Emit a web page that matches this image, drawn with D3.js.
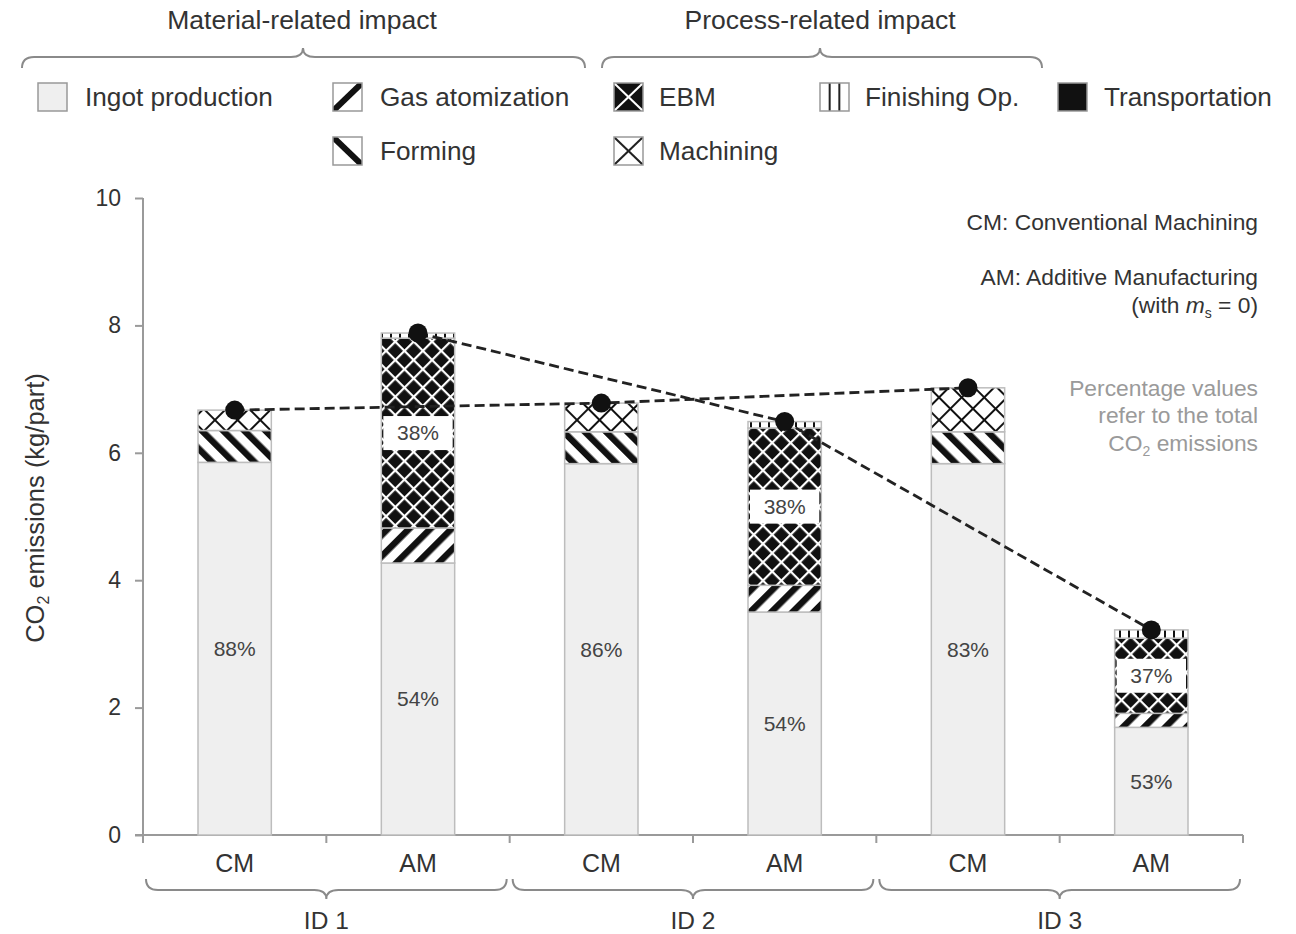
<!DOCTYPE html>
<html><head><meta charset="utf-8">
<script src="https://cdn.jsdelivr.net/npm/d3@7"></script>
<style>body{margin:0;background:#fff;} svg{display:block;} text{font-family:"Liberation Sans",Arial,sans-serif;}</style>
</head><body><svg id="chart" width="1296" height="934"></svg>
<script>
// ---------- data ----------
const categories = ["CM","AM","CM","AM","CM","AM"];
const groups = ["ID 1","ID 2","ID 3"];
const yTicks = [0,2,4,6,8,10];
const seriesNames = ["Ingot production","Gas atomization","Forming","EBM","Machining","Finishing Op.","Transportation"];
const ingot          = [5.85, 4.27, 5.83, 3.50, 5.83, 1.69];
const gasAtomization = [0,    0.55, 0,    0.42, 0,    0.22];
const forming        = [0.50, 0,    0.50, 0,    0.50, 0   ];
const ebm            = [0,    2.98, 0,    2.47, 0,    1.18];
const machining      = [0.32, 0,    0.45, 0,    0.69, 0   ];
const finishing      = [0,    0.08, 0,    0.10, 0,    0.13];
const transportation = [0,    0,    0,    0,    0,    0   ];
const ingotPct = ["88%","54%","86%","54%","83%","53%"];
const ebmPct   = ["","38%","","38%","","37%"];
const headings = ["Material-related impact","Process-related impact"];

// ---------- setup ----------
const svg = d3.select("#chart");
const keys = ["ingot","gas","forming","ebm","machining","finishing","transport"];
const rows = categories.map((c,i)=>({i, ingot:ingot[i], gas:gasAtomization[i], forming:forming[i], ebm:ebm[i], machining:machining[i], finishing:finishing[i], transport:transportation[i]}));
const totals = rows.map(r=>keys.reduce((s,k)=>s+r[k],0));
const stack = d3.stack().keys(keys)(rows);

const x = d3.scaleBand().domain(d3.range(categories.length)).range([143,1243]).paddingInner(0.6).paddingOuter(0.3);
const step = x.step();
const y = d3.scaleLinear().domain([0,10]).range([835,198]);

// ---------- patterns ----------
const defs = svg.append("defs");
function stripes(id, angle){
  const p = defs.append("pattern").attr("id",id).attr("patternUnits","userSpaceOnUse")
    .attr("width",15).attr("height",15).attr("patternTransform",`rotate(${angle})`);
  p.append("rect").attr("width",15).attr("height",15).attr("fill","#fff");
  p.append("rect").attr("x",0).attr("width",6.5).attr("height",15).attr("fill","#111");
}
stripes("pGas",45); stripes("pForming",-45);
function hatch(id, bg, fg, sw, s){
  const p = defs.append("pattern").attr("id",id).attr("patternUnits","userSpaceOnUse")
    .attr("width",s).attr("height",s).attr("patternTransform","rotate(45)");
  p.append("rect").attr("width",s).attr("height",s).attr("fill",bg);
  p.append("rect").attr("x",0).attr("y",0).attr("width",sw).attr("height",s).attr("fill",fg);
  p.append("rect").attr("x",0).attr("y",0).attr("width",s).attr("height",sw).attr("fill",fg);
}
hatch("pEbm","#111","#fff",2.2,13);
hatch("pMach","#fff","#111",2,16);
const pf = defs.append("pattern").attr("id","pFin").attr("patternUnits","userSpaceOnUse").attr("width",9).attr("height",9);
pf.append("rect").attr("width",9).attr("height",9).attr("fill","#fff");
pf.append("rect").attr("x",3).attr("width",2).attr("height",9).attr("fill","#111");

const fills = {ingot:"#efefef", gas:"url(#pGas)", forming:"url(#pForming)", ebm:"url(#pEbm)", machining:"url(#pMach)", finishing:"url(#pFin)", transport:"#111"};

// ---------- axes ----------
const axisColor = "#9a9a9a";
const gy = svg.append("g").attr("transform","translate(143,0)")
  .call(d3.axisLeft(y).tickValues(yTicks).tickSize(8).tickPadding(14).tickFormat(d3.format("d")));
gy.select(".domain").attr("stroke",axisColor).attr("stroke-width",2).attr("d","M0,835V198");
gy.selectAll(".tick line").attr("stroke",axisColor).attr("stroke-width",2);
gy.selectAll(".tick text").attr("font-size",23).attr("fill","#333").attr("font-family","Liberation Sans, Arial, sans-serif");

const xBounds = d3.range(categories.length+1).map(i=>143+i*step);
const gx = svg.append("g");
gx.append("line").attr("x1",135).attr("x2",1243).attr("y1",835).attr("y2",835).attr("stroke",axisColor).attr("stroke-width",2);
gx.selectAll("line.t").data(xBounds).join("line").attr("class","t")
  .attr("x1",d=>d).attr("x2",d=>d).attr("y1",835).attr("y2",843).attr("stroke",axisColor).attr("stroke-width",2);
gx.selectAll("text.c").data(categories).join("text").attr("class","c")
  .attr("x",(d,i)=>x(i)+x.bandwidth()/2).attr("y",863).attr("dy","0.35em")
  .attr("text-anchor","middle").attr("font-size",25).attr("fill","#333").text(d=>d);

// ---------- bars ----------
const gb = svg.append("g");
stack.forEach(layer=>{
  gb.selectAll(null).data(layer.filter(d=>d[1]-d[0]>0)).join("rect")
    .attr("x",d=>x(d.data.i)).attr("width",x.bandwidth())
    .attr("y",d=>y(d[1])).attr("height",d=>y(d[0])-y(d[1]))
    .attr("fill",fills[layer.key]).attr("stroke","#bdbdbd").attr("stroke-width",1.5);
});

// percentage labels
const ingotLayer = stack[0], ebmLayer = stack[3];
svg.selectAll("text.pi").data(ingotLayer).join("text").attr("class","pi")
  .attr("x",d=>x(d.data.i)+x.bandwidth()/2).attr("y",d=>(y(d[0])+y(d[1]))/2).attr("dy","0.35em")
  .attr("text-anchor","middle").attr("font-size",21).attr("fill","#444").text((d,i)=>ingotPct[i]);
const ebmLab = ebmLayer.filter((d,i)=>ebmPct[i]);
svg.selectAll("rect.pe").data(ebmLab).join("rect").attr("class","pe")
  .attr("x",d=>x(d.data.i)+2).attr("width",x.bandwidth()-4)
  .attr("y",d=>(y(d[0])+y(d[1]))/2-17).attr("height",34).attr("fill","#fff");
svg.selectAll("text.pe").data(ebmLab).join("text").attr("class","pe")
  .attr("x",d=>x(d.data.i)+x.bandwidth()/2).attr("y",d=>(y(d[0])+y(d[1]))/2).attr("dy","0.35em")
  .attr("text-anchor","middle").attr("font-size",21).attr("fill","#444").text(d=>ebmPct[d.data.i]);

// ---------- total lines & dots ----------
const pts = totals.map((t,i)=>({i,t}));
const line = d3.line().x(d=>x(d.i)+x.bandwidth()/2).y(d=>y(d.t));
[pts.filter(d=>categories[d.i]==="CM"), pts.filter(d=>categories[d.i]==="AM")].forEach(s=>{
  svg.append("path").attr("d",line(s)).attr("fill","none").attr("stroke","#222").attr("stroke-width",2.8).attr("stroke-dasharray","10,5");
});
svg.selectAll("circle.dot").data(pts).join("circle").attr("class","dot")
  .attr("cx",d=>x(d.i)+x.bandwidth()/2).attr("cy",d=>y(d.t)).attr("r",9.5).attr("fill","#111");

// ---------- braces ----------
function brace(x1,x2,yy,s,xm){
  xm = xm===undefined?(x1+x2)/2:xm;
  const e=11, c=9, r=12;
  return `M${x1},${yy - s*e} Q${x1},${yy} ${x1+r},${yy} L${xm-r},${yy} Q${xm},${yy} ${xm},${yy+s*c} Q${xm},${yy} ${xm+r},${yy} L${x2-r},${yy} Q${x2},${yy} ${x2},${yy - s*e}`;
}
const braceColor = "#8a8a8a";
svg.append("path").attr("d",brace(22,585,57,-1,303)).attr("fill","none").attr("stroke",braceColor).attr("stroke-width",2);
svg.append("path").attr("d",brace(602,1042,57,-1,820)).attr("fill","none").attr("stroke",braceColor).attr("stroke-width",2);
svg.selectAll("text.h").data(headings).join("text").attr("class","h")
  .attr("x",(d,i)=>[302,820][i]).attr("y",20).attr("dy","0.35em").attr("text-anchor","middle")
  .attr("font-size",26.5).attr("fill","#333").text(d=>d);
groups.forEach((g,k)=>{
  const a = xBounds[2*k], b = xBounds[2*k+2], m = xBounds[2*k+1];
  svg.append("path").attr("d",brace(a+3,b-3,890,1,m)).attr("fill","none").attr("stroke",braceColor).attr("stroke-width",2);
  svg.append("text").attr("x",m).attr("y",920).attr("dy","0.35em").attr("text-anchor","middle")
    .attr("font-size",24.5).attr("fill","#333").text(g);
});

// ---------- legend ----------
const leg = [
  {k:"ingot", x:38, y:97, tx:85},
  {k:"gas", x:333, y:97, tx:380},
  {k:"forming", x:333, y:151, tx:380},
  {k:"ebm", x:614, y:97, tx:659},
  {k:"machining", x:614, y:151, tx:659},
  {k:"finishing", x:820, y:97, tx:865},
  {k:"transport", x:1058, y:97, tx:1104}
];
const W=29, H=28;
leg.forEach(l=>{
  const g = svg.append("g").attr("transform",`translate(${l.x},${l.y-H/2})`);
  const cid = "clip_"+l.k;
  defs.append("clipPath").attr("id",cid).append("rect").attr("width",W).attr("height",H);
  const gi = g.append("g").attr("clip-path",`url(#${cid})`);
  if(l.k==="ingot"){ gi.append("rect").attr("width",W).attr("height",H).attr("fill","#efefef"); }
  if(l.k==="transport"){ gi.append("rect").attr("width",W).attr("height",H).attr("fill","#111"); }
  if(l.k==="gas"||l.k==="forming"){
    gi.append("rect").attr("width",W).attr("height",H).attr("fill","#fff");
    const pts2 = l.k==="gas"?[[0,H],[W,0]]:[[0,0],[W,H]];
    gi.append("line").attr("x1",pts2[0][0]).attr("y1",pts2[0][1]).attr("x2",pts2[1][0]).attr("y2",pts2[1][1]).attr("stroke","#111").attr("stroke-width",6);
  }
  if(l.k==="ebm"||l.k==="machining"){
    gi.append("rect").attr("width",W).attr("height",H).attr("fill",l.k==="ebm"?"#111":"#fff");
    const c = l.k==="ebm"?"#fff":"#222";
    gi.append("line").attr("x1",0).attr("y1",0).attr("x2",W).attr("y2",H).attr("stroke",c).attr("stroke-width",2);
    gi.append("line").attr("x1",0).attr("y1",H).attr("x2",W).attr("y2",0).attr("stroke",c).attr("stroke-width",2);
  }
  if(l.k==="finishing"){
    gi.append("rect").attr("width",W).attr("height",H).attr("fill","#fff");
    [W/3,2*W/3].forEach(v=>gi.append("line").attr("x1",v).attr("x2",v).attr("y1",0).attr("y2",H).attr("stroke","#222").attr("stroke-width",2));
  }
  g.append("rect").attr("width",W).attr("height",H).attr("fill","none").attr("stroke","#999").attr("stroke-width",1.5);
  svg.append("text").attr("x",l.tx).attr("y",l.y).attr("dy","0.35em").attr("font-size",26.2).attr("fill","#333")
    .text(seriesNames[keys.indexOf(l.k)]);
});

// ---------- annotations ----------
const ann = svg.append("g").attr("text-anchor","end").attr("font-size",22.8);
ann.append("text").attr("x",1258).attr("y",222).attr("dy","0.35em").attr("fill","#333").text("CM: Conventional Machining");
ann.append("text").attr("x",1258).attr("y",277).attr("dy","0.35em").attr("fill","#333").text("AM: Additive Manufacturing");
const t3 = ann.append("text").attr("x",1258).attr("y",305).attr("dy","0.35em").attr("fill","#333");
t3.append("tspan").text("(with ");
t3.append("tspan").attr("font-style","italic").text("m");
t3.append("tspan").attr("font-size",14).attr("dy",5).text("s");
t3.append("tspan").attr("dy",-5).text(" = 0)");
ann.append("text").attr("x",1258).attr("y",388).attr("dy","0.35em").attr("fill","#9a9a9a").text("Percentage values");
ann.append("text").attr("x",1258).attr("y",415).attr("dy","0.35em").attr("fill","#9a9a9a").text("refer to the total");
const t6 = ann.append("text").attr("x",1258).attr("y",443).attr("dy","0.35em").attr("fill","#9a9a9a");
t6.append("tspan").text("CO");
t6.append("tspan").attr("font-size",14).attr("dy",5).text("2");
t6.append("tspan").attr("dy",-5).text(" emissions");

// ---------- y axis title ----------
const yt = svg.append("text").attr("transform","translate(35,508) rotate(-90)").attr("text-anchor","middle")
  .attr("dy","0.35em").attr("font-size",25.5).attr("fill","#333");
yt.append("tspan").text("CO");
yt.append("tspan").attr("font-size",16).attr("dy",5).text("2");
yt.append("tspan").attr("dy",-5).text(" emissions (kg/part)");
</script></body></html>
